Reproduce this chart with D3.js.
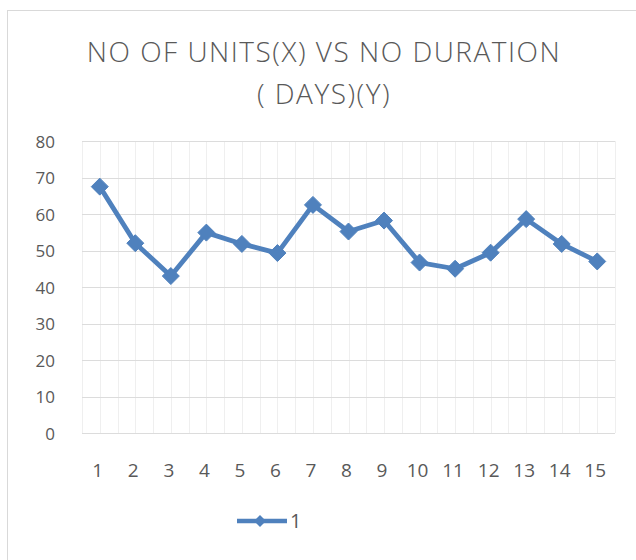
<!DOCTYPE html>
<html><head><meta charset="utf-8">
<script src="https://cdn.jsdelivr.net/npm/d3@7"></script>
<style>html,body{margin:0;padding:0;background:#fff;}svg{display:block;}</style>
</head><body>
<script>
const categories = ["1","2","3","4","5","6","7","8","9","10","11","12","13","14","15"];
const values = [67.5, 52.0, 43.0, 54.9, 51.8, 49.3, 62.5, 55.2, 58.2, 46.7, 45.0, 49.4, 58.6, 51.8, 47.0];
const yTicks = [0,10,20,30,40,50,60,70,80];
const titleLines = ["NO OF UNITS(X) VS NO DURATION", "( DAYS)(Y)"];
const seriesName = "1";

(function(){
const W = 636, H = 560;
const svg = d3.select("body").append("svg").attr("width", W).attr("height", H);
svg.append("rect").attr("x",0).attr("y",0).attr("width",W).attr("height",H).attr("fill","#fff");
svg.append("rect").attr("x",7.5).attr("y",10.5).attr("width",W+20).attr("height",H+20)
  .attr("fill","none").attr("stroke","#d9d9d9").attr("stroke-width",1);

const pLeft = 82, pRight = 615, pTop = 141, pBottom = 433;
const x = d3.scaleBand().domain(categories).range([pLeft, pRight]);
const y = d3.scaleLinear().domain([0, 80]).range([pBottom, pTop]);

const g = svg.append("g");
const vx = [];
categories.forEach(c => { vx.push(x(c)); vx.push(x(c) + x.bandwidth()/2); });
vx.push(pRight);
g.selectAll("line.v").data(vx).enter().append("line")
  .attr("x1", d => Math.round(d)+0.5).attr("x2", d => Math.round(d)+0.5)
  .attr("y1", pTop).attr("y2", pBottom)
  .attr("stroke", "#efefef").attr("stroke-width", 1);
g.selectAll("line.h").data(yTicks).enter().append("line")
  .attr("x1", pLeft).attr("x2", pRight)
  .attr("y1", d => Math.round(y(d))+0.5).attr("y2", d => Math.round(y(d))+0.5)
  .attr("stroke", "#dcdcdc").attr("stroke-width", 1.2);

const font = "'Open Sans', 'Liberation Sans', sans-serif";
const yAxis = d3.axisLeft(y).tickValues(yTicks).tickSize(0).tickPadding(0);
const ya = svg.append("g").attr("transform", `translate(${pLeft-27},1)`).call(yAxis);
ya.select(".domain").remove();
ya.selectAll("text").attr("font-family", font).attr("font-size", 17).attr("fill", "#595959");

const xAxis = d3.axisBottom(x).tickSize(0).tickPadding(0);
const xa = svg.append("g").attr("transform", `translate(-2,${pBottom+30})`).call(xAxis);
xa.select(".domain").remove();
xa.selectAll("text").attr("font-family", font).attr("font-size", 19).attr("fill", "#595959");

svg.append("g").selectAll("text").data(titleLines).enter().append("text")
  .attr("x", 324).attr("y", (d,i) => 62 + i*42)
  .attr("text-anchor", "middle")
  .attr("font-family", font).attr("font-size", 28).attr("font-weight", 300)
  .attr("letter-spacing", 1.5)
  .attr("fill", "#595959").text(d => d);

const color = "#4f81bd";
const cx = c => x(c) + x.bandwidth()/2;
const line = d3.line().x((d,i) => cx(categories[i])).y(d => y(d));
svg.append("path").datum(values).attr("d", line)
  .attr("fill", "none").attr("stroke", color).attr("stroke-width", 4.8).attr("stroke-linejoin", "round");

const diamond = (px, py, r) => `M${px},${py-r}L${px+r},${py}L${px},${py+r}L${px-r},${py}Z`;
svg.append("g").selectAll("path").data(values).enter().append("path")
  .attr("d", (d,i) => diamond(cx(categories[i]), y(d), 8.5))
  .attr("fill", color).attr("stroke", color).attr("stroke-width", 1);

const ly = 521;
svg.append("line").attr("x1", 237).attr("x2", 287).attr("y1", ly).attr("y2", ly)
  .attr("stroke", color).attr("stroke-width", 4.5);
svg.append("path").attr("d", diamond(260, ly, 6)).attr("fill", color);
svg.append("text").attr("x", 290).attr("y", ly + 7).attr("font-family", font)
  .attr("font-size", 20).attr("fill", "#595959").text(seriesName);
})();
</script>
</body></html>
